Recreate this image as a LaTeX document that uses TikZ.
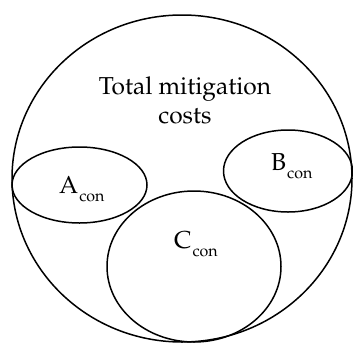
\documentclass[tikz,border=0pt]{standalone}
\usepackage[T1]{fontenc}
\usepackage{mathpazo}
\tikzset{
  ring/.style={draw=black, line width=1.5pt},
  lbl/.style={font=\fontsize{24.5}{29}\selectfont, align=center, inner sep=0pt},
}
\newcommand{\subcon}[1]{#1\kern1pt\raisebox{-8pt}{\fontsize{16}{16}\selectfont con}}
\begin{document}
\begin{tikzpicture}[x=1pt,y=-1pt]
  \useasboundingbox (0,0) rectangle (353,343);
  \draw[ring] (182,178.5) ellipse [x radius=170, y radius=163.5];
  \draw[ring] (79.5,185) ellipse [x radius=67.5, y radius=38];
  \draw[ring] (288,171) ellipse [x radius=64.5, y radius=41];
  \draw[ring] (194,266.5) ellipse [x radius=87, y radius=75.5];
  \node[lbl, anchor=base] (total) at (185,94) {Total mitigation};
  \node[lbl, anchor=base] (costs) at (185,123) {costs};
  \node[lbl, anchor=base west] (a) at (59,193) {\subcon{A}};
  \node[lbl, anchor=base west] (b) at (271,170.5) {\subcon{B}};
  \node[lbl, anchor=base west] (c) at (174,248.5) {\subcon{C}};
\end{tikzpicture}
\end{document}
